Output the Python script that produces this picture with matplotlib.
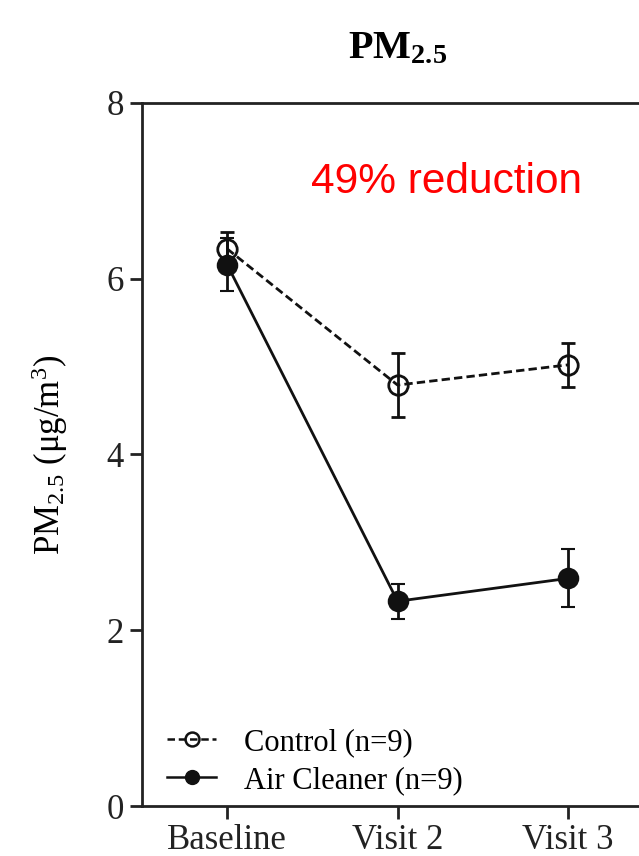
import matplotlib
matplotlib.use("Agg")
import matplotlib.pyplot as plt
from matplotlib.lines import Line2D

# data (mean +/- SE)
visits = ["Baseline", "Visit 2", "Visit 3"]
control_mean = [6.34, 4.79, 5.02]
control_err = [0.19, 0.36, 0.25]
cleaner_mean = [6.16, 2.33, 2.59]
cleaner_err = [0.30, 0.20, 0.33]
y_ticks = [0, 2, 4, 6, 8]

plt.rcParams['font.family'] = ['Liberation Serif', 'DejaVu Serif']
plt.rcParams['mathtext.fontset'] = 'custom'
plt.rcParams['mathtext.rm'] = 'Liberation Serif'
plt.rcParams['mathtext.it'] = 'Liberation Serif:italic'
plt.rcParams['mathtext.bf'] = 'Liberation Serif:bold'

fig = plt.figure(figsize=(6.39, 8.56), dpi=100)
ax = fig.add_axes([0.2222, 0.0584, 0.80, 0.8213])

x = list(range(len(visits)))
dash = (0, (3, 1.5))

# control: open circles, dashed line
ax.errorbar(x, control_mean, yerr=control_err, color='#111111', linestyle=dash,
            linewidth=2, marker='o', markersize=14, markerfacecolor='none',
            markeredgewidth=2, capsize=5, elinewidth=2, capthick=2, zorder=3)
# air cleaner: filled circles, solid line
ax.errorbar(x, cleaner_mean, yerr=cleaner_err, color='#111111', linestyle='-',
            linewidth=2, marker='o', markersize=14, markerfacecolor='#111111',
            markeredgewidth=1.5, capsize=5, elinewidth=2, capthick=2, zorder=4)

ax.set_xlim(-0.5, 2.5)
ax.set_ylim(0, 8)
ax.set_xticks(x)
ax.set_xticklabels(visits)
ax.set_yticks(y_ticks)
ax.tick_params(axis='both', direction='out', length=9, width=2, labelsize=25,
               colors='#222222', pad=4)

for side in ['left', 'bottom', 'top', 'right']:
    ax.spines[side].set_linewidth(2)
    ax.spines[side].set_color('#222222')

ax.set_ylabel(r'PM$_{2.5}$ ($\mathrm{\mu}$g/m$^{3}$)', fontsize=25, labelpad=26)
ax.set_title(r'$\mathbf{PM_{2.5}}$', fontsize=29, pad=32)

ax.text(0.49, 7.1, '49% reduction', color='#ff0000', fontsize=30.5,
        family=['Liberation Sans', 'DejaVu Sans'], ha='left', va='center')

# legend without error bars, smaller markers
handles = [
    Line2D([], [], color='#111111', linestyle=dash, linewidth=1.8, marker='o',
           markersize=10, markerfacecolor='none', markeredgewidth=1.8),
    Line2D([], [], color='#111111', linestyle='-', linewidth=1.8, marker='o',
           markersize=10, markerfacecolor='#111111'),
]
ax.legend(handles, ['Control (n=9)', 'Air Cleaner (n=9)'], loc='lower left',
          bbox_to_anchor=(0.02, -0.006), frameon=False, fontsize=22,
          handlelength=1.6, handletextpad=0.9, labelspacing=0.3,
          borderaxespad=0.1)

fig.savefig('out.png', dpi=100)
